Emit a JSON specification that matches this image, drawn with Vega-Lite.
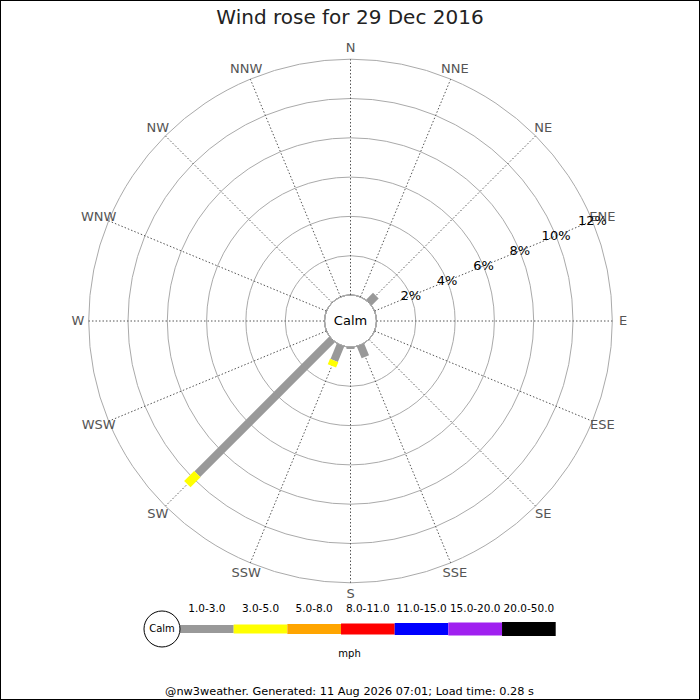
{
  "$schema": "https://vega.github.io/schema/vega-lite/v6.json",
  "width": 700,
  "height": 700,
  "autosize": {"type": "none"},
  "padding": 0,
  "background": "white",
  "title": {
    "text": "Wind rose for 29 Dec 2016",
    "fontSize": 20,
    "fontWeight": "normal",
    "color": "#222222",
    "anchor": "middle",
    "frame": "group",
    "offset": -28
  },
  "datasets": {
    "dirs": [
      {"dir": "N", "deg": 0}, {"dir": "NNE", "deg": 22.5}, {"dir": "NE", "deg": 45}, {"dir": "ENE", "deg": 67.5},
      {"dir": "E", "deg": 90}, {"dir": "ESE", "deg": 112.5}, {"dir": "SE", "deg": 135}, {"dir": "SSE", "deg": 157.5},
      {"dir": "S", "deg": 180}, {"dir": "SSW", "deg": 202.5}, {"dir": "SW", "deg": 225}, {"dir": "WSW", "deg": 247.5},
      {"dir": "W", "deg": 270}, {"dir": "WNW", "deg": 292.5}, {"dir": "NW", "deg": 315}, {"dir": "NNW", "deg": 337.5}
    ],
    "rings": [{"pct": 0}, {"pct": 2}, {"pct": 4}, {"pct": 6}, {"pct": 8}, {"pct": 10}, {"pct": 12}],
    "speeds": [
      {"speed": "1.0-3.0", "lo": 1, "hi": 3},
      {"speed": "3.0-5.0", "lo": 3, "hi": 5},
      {"speed": "5.0-8.0", "lo": 5, "hi": 8},
      {"speed": "8.0-11.0", "lo": 8, "hi": 11},
      {"speed": "11.0-15.0", "lo": 11, "hi": 15},
      {"speed": "15.0-20.0", "lo": 15, "hi": 20},
      {"speed": "20.0-50.0", "lo": 20, "hi": 50}
    ],
    "bars": [
      {"dir": "NE", "speed": "1.0-3.0", "pct": 0.5},
      {"dir": "SSE", "speed": "1.0-3.0", "pct": 0.65},
      {"dir": "S", "speed": "1.0-3.0", "pct": 0.1},
      {"dir": "SSW", "speed": "1.0-3.0", "pct": 0.85},
      {"dir": "SSW", "speed": "3.0-5.0", "pct": 0.3},
      {"dir": "SW", "speed": "1.0-3.0", "pct": 9.7},
      {"dir": "SW", "speed": "3.0-5.0", "pct": 0.72}
    ]
  },
  "layer": [
    {
      "data": {"name": "rings"},
      "mark": {"type": "arc", "theta": 0, "theta2": 6.2832, "filled": false, "stroke": "#aaaaaa", "strokeWidth": 1},
      "encoding": {
        "x": {"datum": 0, "type": "quantitative", "scale": {"domain": [-10, 10], "range": [154, 547]}},
        "y": {"datum": 0, "type": "quantitative", "scale": {"domain": [-10, 10], "range": [517.5, 124.5]}},
        "radius": {"field": "pct", "type": "quantitative", "stack": null, "scale": {"type": "linear", "domain": [0, 12], "range": [26, 261.8]}}
      }
    },
    {
      "data": {"name": "dirs"},
      "transform": [
        {"calculate": "sin(datum.deg * PI / 180)", "as": "sx"},
        {"calculate": "cos(datum.deg * PI / 180)", "as": "cy"},
        {"calculate": "1.3232 * datum.sx", "as": "x0"},
        {"calculate": "1.3232 * datum.cy", "as": "y0"},
        {"calculate": "(1.3232 + 12) * datum.sx", "as": "x1"},
        {"calculate": "(1.3232 + 12) * datum.cy", "as": "y1"}
      ],
      "mark": {"type": "rule", "stroke": "#555555", "strokeWidth": 1, "strokeDash": [1.5, 2]},
      "encoding": {
        "x": {"field": "x0", "type": "quantitative", "scale": {"domain": [-10, 10], "range": [154, 547]}},
        "y": {"field": "y0", "type": "quantitative", "scale": {"domain": [-10, 10], "range": [517.5, 124.5]}},
        "x2": {"field": "x1"},
        "y2": {"field": "y1"}
      }
    },
    {
      "data": {"name": "dirs"},
      "transform": [
        {"calculate": "(1.3232 + 12.55) * sin(datum.deg * PI / 180)", "as": "lx"},
        {"calculate": "(1.3232 + 12.55) * cos(datum.deg * PI / 180)", "as": "ly"}
      ],
      "mark": {"type": "text", "fontSize": 13, "fill": "#555555", "align": "center", "baseline": "middle"},
      "encoding": {
        "x": {"field": "lx", "type": "quantitative", "scale": {"domain": [-10, 10], "range": [154, 547]}},
        "y": {"field": "ly", "type": "quantitative", "scale": {"domain": [-10, 10], "range": [517.5, 124.5]}},
        "text": {"field": "dir"}
      }
    },
    {
      "data": {"name": "rings"},
      "transform": [
        {"filter": "datum.pct > 0"},
        {"calculate": "(1.3232 + datum.pct) * sin(67.5 * PI / 180)", "as": "lx"},
        {"calculate": "(1.3232 + datum.pct) * cos(67.5 * PI / 180)", "as": "ly"},
        {"calculate": "datum.pct + '%'", "as": "label"}
      ],
      "mark": {"type": "text", "fontSize": 13, "fill": "black", "align": "center", "baseline": "middle"},
      "encoding": {
        "x": {"field": "lx", "type": "quantitative", "scale": {"domain": [-10, 10], "range": [154, 547]}},
        "y": {"field": "ly", "type": "quantitative", "scale": {"domain": [-10, 10], "range": [517.5, 124.5]}},
        "text": {"field": "label"}
      }
    },
    {
      "data": {"name": "bars"},
      "transform": [
        {"lookup": "dir", "from": {"data": {"name": "dirs"}, "key": "dir", "fields": ["deg"]}},
        {"lookup": "speed", "from": {"data": {"name": "speeds"}, "key": "speed", "fields": ["lo"]}},
        {"stack": "pct", "groupby": ["dir"], "sort": [{"field": "lo", "order": "ascending"}], "as": ["p0", "p1"]},
        {"calculate": "(1.3232 + datum.p0) * sin(datum.deg * PI / 180)", "as": "x0"},
        {"calculate": "(1.3232 + datum.p0) * cos(datum.deg * PI / 180)", "as": "y0"},
        {"calculate": "(1.3232 + datum.p1) * sin(datum.deg * PI / 180)", "as": "x1"},
        {"calculate": "(1.3232 + datum.p1) * cos(datum.deg * PI / 180)", "as": "y1"}
      ],
      "mark": {"type": "rule", "strokeCap": "butt"},
      "encoding": {
        "x": {"field": "x0", "type": "quantitative", "scale": {"domain": [-10, 10], "range": [154, 547]}},
        "y": {"field": "y0", "type": "quantitative", "scale": {"domain": [-10, 10], "range": [517.5, 124.5]}},
        "x2": {"field": "x1"},
        "y2": {"field": "y1"},
        "color": {
          "field": "speed", "type": "ordinal",
          "scale": {"domain": ["1.0-3.0", "3.0-5.0", "5.0-8.0", "8.0-11.0", "11.0-15.0", "15.0-20.0", "20.0-50.0"],
                    "range": ["#999999", "#ffff00", "#ffa500", "#ff0000", "#0000ff", "#a020f0", "#000000"]}
        },
        "strokeWidth": {
          "field": "speed", "type": "ordinal",
          "scale": {"domain": ["1.0-3.0", "3.0-5.0", "5.0-8.0", "8.0-11.0", "11.0-15.0", "15.0-20.0", "20.0-50.0"],
                    "range": [8, 14, 20, 23, 25, 27, 29]}
        }
      }
    },
    {
      "data": {"values": [{"label": "Calm"}]},
      "mark": {"type": "text", "fontSize": 13, "fill": "black", "align": "center", "baseline": "middle"},
      "encoding": {
        "x": {"datum": 0, "type": "quantitative", "scale": {"domain": [-10, 10], "range": [154, 547]}},
        "y": {"datum": 0, "type": "quantitative", "scale": {"domain": [-10, 10], "range": [517.5, 124.5]}},
        "text": {"field": "label"}
      }
    },
    {
      "data": {"name": "speeds"},
      "mark": {"type": "rule", "strokeCap": "butt"},
      "encoding": {
        "x": {"field": "lo", "type": "ordinal", "scale": {"type": "point", "domain": [1, 3, 5, 8, 11, 15, 20, 50], "range": [180, 555.7], "padding": 0}},
        "x2": {"field": "hi"},
        "y": {"datum": -15.674, "type": "quantitative", "scale": {"domain": [-10, 10], "range": [517.5, 124.5]}},
        "color": {
          "field": "speed", "type": "ordinal",
          "scale": {"domain": ["1.0-3.0", "3.0-5.0", "5.0-8.0", "8.0-11.0", "11.0-15.0", "15.0-20.0", "20.0-50.0"],
                    "range": ["#999999", "#ffff00", "#ffa500", "#ff0000", "#0000ff", "#a020f0", "#000000"]}
        },
        "strokeWidth": {
          "field": "speed", "type": "ordinal",
          "scale": {"domain": ["1.0-3.0", "3.0-5.0", "5.0-8.0", "8.0-11.0", "11.0-15.0", "15.0-20.0", "20.0-50.0"],
                    "range": [8, 14, 20, 23, 25, 27, 29]}
        }
      }
    },
    {
      "data": {"name": "speeds"},
      "mark": {"type": "text", "fontSize": 10.5, "fill": "black", "align": "center", "baseline": "middle"},
      "encoding": {
        "x": {"field": "speed", "type": "ordinal", "scale": {"type": "band", "domain": ["1.0-3.0", "3.0-5.0", "5.0-8.0", "8.0-11.0", "11.0-15.0", "15.0-20.0", "20.0-50.0"], "range": [180, 555.7], "paddingInner": 0, "paddingOuter": 0}},
        "y": {"datum": -14.65, "type": "quantitative", "scale": {"domain": [-10, 10], "range": [517.5, 124.5]}},
        "text": {"field": "speed"}
      }
    },
    {
      "data": {"values": [{"label": "Calm"}]},
      "layer": [
        {"mark": {"type": "point", "shape": "circle", "size": 1296, "filled": false, "stroke": "black", "strokeWidth": 1, "opacity": 1}},
        {"mark": {"type": "text", "fontSize": 10, "fill": "black", "align": "center", "baseline": "middle"},
         "encoding": {"text": {"field": "label"}}}
      ],
      "encoding": {
        "x": {"datum": -9.593, "type": "quantitative", "scale": {"domain": [-10, 10], "range": [154, 547]}},
        "y": {"datum": -15.674, "type": "quantitative", "scale": {"domain": [-10, 10], "range": [517.5, 124.5]}}
      }
    },
    {
      "data": {"values": [{"label": "mph", "ty": -16.95, "size": 10}, {"label": "@nw3weather. Generated: 11 Aug 2026 07:01; Load time: 0.28 s", "ty": -18.88, "size": 11.3}]},
      "mark": {"type": "text", "fill": "black", "align": "center", "baseline": "middle"},
      "encoding": {
        "x": {"datum": -0.05, "type": "quantitative", "scale": {"domain": [-10, 10], "range": [154, 547]}},
        "y": {"field": "ty", "type": "quantitative", "scale": {"domain": [-10, 10], "range": [517.5, 124.5]}},
        "size": {"field": "size", "type": "quantitative", "scale": null},
        "text": {"field": "label"}
      }
    }
  ],
  "resolve": {"scale": {"x": "independent", "y": "independent"}},
  "config": {
    "font": "DejaVu Sans",
    "view": {"stroke": "black", "strokeWidth": 2},
    "axis": {"disable": true},
    "legend": {"disable": true}
  }
}
